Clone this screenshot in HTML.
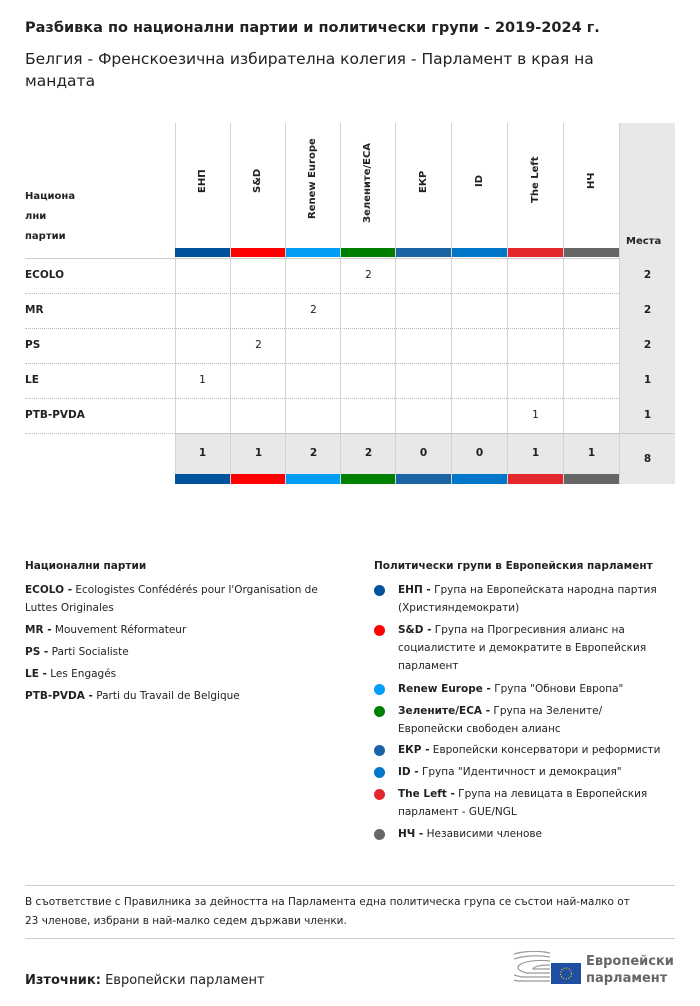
<!DOCTYPE html>
<html><head><meta charset="utf-8"><style>
body{margin:0;width:700px;height:1006px;background:#fff;font-family:"DejaVu Sans","Liberation Sans",sans-serif;color:#222;position:relative;overflow:hidden}
.a{position:absolute}
.v{position:absolute;width:1px;background:#d4d4d4}
.hd{position:absolute;font-size:10px;font-weight:bold;transform:rotate(-90deg);white-space:nowrap;transform-origin:left top}
.c{position:absolute;width:55px;text-align:center;font-size:10.5px}
.r{position:absolute;left:25px;font-size:10.5px;font-weight:bold}
.dl{position:absolute;left:25px;width:594px;border-top:1px dotted #bbb}
.lg{font-size:10.5px;line-height:18px}
.dot{position:absolute;left:374px;width:11px;height:11px;border-radius:50%}
.lt{position:absolute;left:398px;width:280px;font-size:10.5px;line-height:18px}
</style></head><body>
<div class="a" style="left:25px;top:20px;font-size:14.5px;font-weight:bold;white-space:nowrap">Разбивка по национални партии и политически групи - 2019-2024 г.</div>
<div class="a" style="left:25px;top:48px;font-size:15.5px;line-height:22px;width:600px">Белгия - Френскоезична избирателна колегия - Парламент в края на мандата</div>

<div class="a" style="left:619px;top:123px;width:56px;height:361px;background:#e8e8e8"></div>
<div class="a" style="left:175px;top:433px;width:444px;height:51px;background:#e8e8e8"></div>
<div class="a" style="left:25px;top:258px;width:594px;height:1px;background:#ccc"></div>
<div class="a" style="left:175px;top:433px;width:500px;height:1px;background:#ccc"></div>

<div class="v" style="left:175px;top:123px;height:361px"></div>
<div class="v" style="left:230px;top:123px;height:361px"></div>
<div class="v" style="left:285px;top:123px;height:361px"></div>
<div class="v" style="left:340px;top:123px;height:361px"></div>
<div class="v" style="left:395px;top:123px;height:361px"></div>
<div class="v" style="left:451px;top:123px;height:361px"></div>
<div class="v" style="left:507px;top:123px;height:361px"></div>
<div class="v" style="left:563px;top:123px;height:361px"></div>
<div class="v" style="left:619px;top:123px;height:361px"></div>

<div class="r" style="top:187px;line-height:20px;font-size:10px">Национа<br>лни<br>партии</div>
<div class="a" style="left:626px;top:236px;font-size:10px;font-weight:bold">Места</div>

<div class="hd" style="left:197px;top:193px">ЕНП</div>
<div class="hd" style="left:252px;top:193px">S&amp;D</div>
<div class="hd" style="left:307px;top:219px">Renew Europe</div>
<div class="hd" style="left:362px;top:223px">Зелените/ЕСА</div>
<div class="hd" style="left:418px;top:193px">ЕКР</div>
<div class="hd" style="left:474px;top:187px">ID</div>
<div class="hd" style="left:530px;top:203px">The Left</div>
<div class="hd" style="left:586px;top:189px">НЧ</div>

<div class="a" style="left:175px;top:248px;width:55px;height:9px;background:#00529b"></div>
<div class="a" style="left:231px;top:248px;width:54px;height:9px;background:#ff0000"></div>
<div class="a" style="left:286px;top:248px;width:54px;height:9px;background:#009ef7"></div>
<div class="a" style="left:341px;top:248px;width:54px;height:9px;background:#008000"></div>
<div class="a" style="left:396px;top:248px;width:55px;height:9px;background:#1a64a4"></div>
<div class="a" style="left:452px;top:248px;width:55px;height:9px;background:#0077c8"></div>
<div class="a" style="left:508px;top:248px;width:55px;height:9px;background:#e3272d"></div>
<div class="a" style="left:564px;top:248px;width:55px;height:9px;background:#666"></div>

<div class="a" style="left:175px;top:474px;width:55px;height:10px;background:#00529b"></div>
<div class="a" style="left:231px;top:474px;width:54px;height:10px;background:#ff0000"></div>
<div class="a" style="left:286px;top:474px;width:54px;height:10px;background:#009ef7"></div>
<div class="a" style="left:341px;top:474px;width:54px;height:10px;background:#008000"></div>
<div class="a" style="left:396px;top:474px;width:55px;height:10px;background:#1a64a4"></div>
<div class="a" style="left:452px;top:474px;width:55px;height:10px;background:#0077c8"></div>
<div class="a" style="left:508px;top:474px;width:55px;height:10px;background:#e3272d"></div>
<div class="a" style="left:564px;top:474px;width:55px;height:10px;background:#666"></div>

<div class="r" style="top:269px">ECOLO</div>
<div class="r" style="top:304px">MR</div>
<div class="r" style="top:339px">PS</div>
<div class="r" style="top:374px">LE</div>
<div class="r" style="top:409px">PTB-PVDA</div>
<div class="dl" style="top:293px"></div>
<div class="dl" style="top:328px"></div>
<div class="dl" style="top:363px"></div>
<div class="dl" style="top:398px"></div>
<div class="dl" style="top:433px"></div>

<div class="c" style="left:341px;top:269px">2</div>
<div class="c" style="left:286px;top:304px">2</div>
<div class="c" style="left:231px;top:339px">2</div>
<div class="c" style="left:175px;top:374px">1</div>
<div class="c" style="left:508px;top:409px">1</div>
<div class="c" style="left:620px;top:269px;font-weight:bold">2</div>
<div class="c" style="left:620px;top:304px;font-weight:bold">2</div>
<div class="c" style="left:620px;top:339px;font-weight:bold">2</div>
<div class="c" style="left:620px;top:374px;font-weight:bold">1</div>
<div class="c" style="left:620px;top:409px;font-weight:bold">1</div>

<div class="c" style="left:175px;top:447px;font-weight:bold">1</div>
<div class="c" style="left:231px;top:447px;font-weight:bold">1</div>
<div class="c" style="left:286px;top:447px;font-weight:bold">2</div>
<div class="c" style="left:341px;top:447px;font-weight:bold">2</div>
<div class="c" style="left:396px;top:447px;font-weight:bold">0</div>
<div class="c" style="left:452px;top:447px;font-weight:bold">0</div>
<div class="c" style="left:508px;top:447px;font-weight:bold">1</div>
<div class="c" style="left:564px;top:447px;font-weight:bold">1</div>
<div class="c" style="left:620px;top:453px;font-weight:bold">8</div>

<div class="a lg" style="left:25px;top:557px;width:320px">
<b>Национални партии</b><br><div style="height:6px"></div>
<b>ECOLO -</b> Ecologistes Confédérés pour l'Organisation de<br>Luttes Originales<div style="height:4px"></div>
<b>MR -</b> Mouvement Réformateur<div style="height:4px"></div>
<b>PS -</b> Parti Socialiste<div style="height:4px"></div>
<b>LE -</b> Les Engagés<div style="height:4px"></div>
<b>PTB-PVDA -</b> Parti du Travail de Belgique</div>

<div class="a" style="left:374px;top:557px;font-size:10.5px;font-weight:bold;line-height:18px;white-space:nowrap">Политически групи в Европейския парламент</div>
<div class="dot" style="top:585px;background:#00529b"></div><div class="lt" style="top:581px"><b>ЕНП -</b> Група на Европейската народна партия<br>(Християндемократи)</div>
<div class="dot" style="top:625px;background:#ff0000"></div><div class="lt" style="top:621px"><b>S&amp;D -</b> Група на Прогресивния алианс на<br>социалистите и демократите в Европейския<br>парламент</div>
<div class="dot" style="top:684px;background:#009ef7"></div><div class="lt" style="top:680px"><b>Renew Europe -</b> Група "Обнови Европа"</div>
<div class="dot" style="top:706px;background:#008000"></div><div class="lt" style="top:702px"><b>Зелените/ЕСА -</b> Група на Зелените/<br>Европейски свободен алианс</div>
<div class="dot" style="top:745px;background:#1a64a4"></div><div class="lt" style="top:741px;white-space:nowrap"><b>ЕКР -</b> Европейски консерватори и реформисти</div>
<div class="dot" style="top:767px;background:#0077c8"></div><div class="lt" style="top:763px"><b>ID -</b> Група "Идентичност и демокрация"</div>
<div class="dot" style="top:789px;background:#e3272d"></div><div class="lt" style="top:785px"><b>The Left -</b> Група на левицата в Европейския<br>парламент - GUE/NGL</div>
<div class="dot" style="top:829px;background:#666"></div><div class="lt" style="top:825px"><b>НЧ -</b> Независими членове</div>

<div class="a" style="left:25px;top:885px;width:650px;height:1px;background:#ccc"></div>
<div class="a" style="left:25px;top:893px;width:660px;font-size:10.5px;line-height:19px">В съответствие с Правилника за дейността на Парламента една политическа група се състои най-малко от<br>23 членове, избрани в най-малко седем държави членки.</div>
<div class="a" style="left:25px;top:938px;width:650px;height:1px;background:#ccc"></div>
<div class="a" style="left:25px;top:973px;font-size:13px;white-space:nowrap"><b>Източник:</b> Европейски парламент</div>

<svg class="a" style="left:514px;top:951px" width="70" height="34">
<g fill="none" stroke="#999" stroke-width="1.2">
<path d="M36 30 H4 A32 14 0 0 1 36 2"/><path d="M36 26 H8 A28 10 0 0 1 36 6"/><path d="M36 22 H13 A23 7 0 0 1 36 10"/><path d="M36 18 H19 A17 4 0 0 1 36 14"/>
</g>
<rect x="37" y="12" width="30" height="21" fill="#1f4ea3"/>
<circle cx="52" cy="22.5" r="5.5" fill="none" stroke="#fc0" stroke-width="1.2" stroke-dasharray="1 1.6"/>
</svg>
<div class="a" style="left:586px;top:953px;font-size:13px;font-weight:bold;color:#666;line-height:17px">Европейски<br>парламент</div>
</body></html>
